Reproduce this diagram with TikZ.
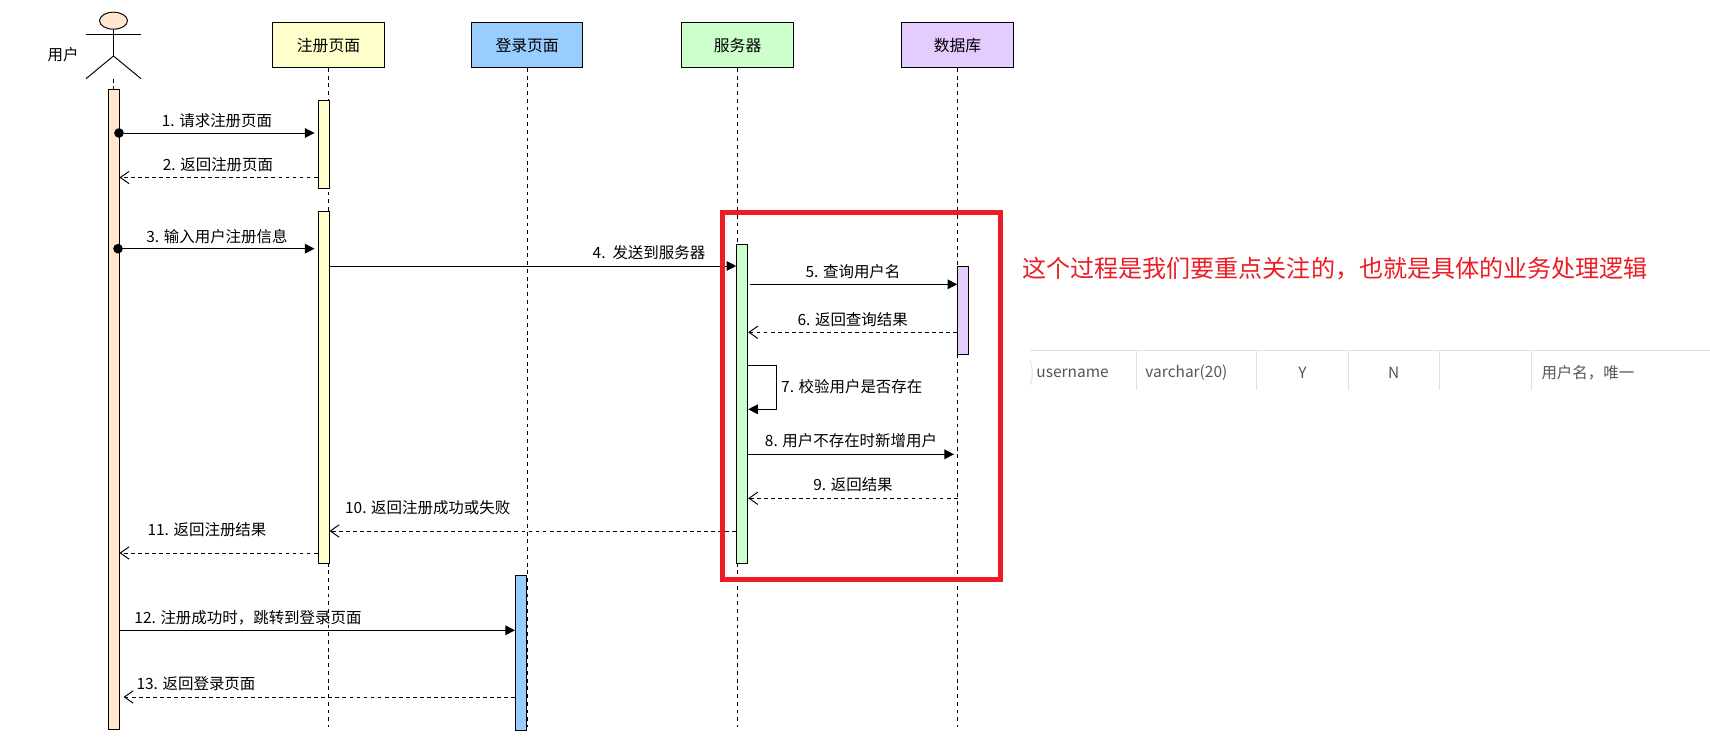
\documentclass[tikz,border=0pt]{standalone}
\usepackage{fontspec}
\setmainfont{Noto Sans CJK SC}
\usepackage{tikz}
\usetikzlibrary{arrows.meta, positioning, shapes.geometric}

\definecolor{usercol}{HTML}{FFE6CC}
\definecolor{regcol}{HTML}{FFFFCC}
\definecolor{logincol}{HTML}{99CCFF}
\definecolor{servercol}{HTML}{CCFFCC}
\definecolor{dbcol}{HTML}{E5CCFF}
\definecolor{markred}{HTML}{ED1C24}
\definecolor{rulecol}{HTML}{DFE2E5}
\definecolor{celltext}{HTML}{555555}

\begin{document}
\begin{tikzpicture}[
      x=0.02cm, y=-0.02cm,
      line width=0.55pt,
      head/.style={rectangle, draw, minimum width=2.23cm, minimum height=0.89cm, inner sep=0pt, font=\fontsize{9}{10}\selectfont},
      bar/.style={rectangle, draw, minimum width=0.22cm, inner sep=0pt},
      lifeline/.style={dash pattern=on 2.2pt off 2.2pt},
      msg/.style={-{Triangle[length=5.5pt, width=5.5pt]}},
      reply/.style={dash pattern=on 2.2pt off 1.8pt, -{Straight Barb[length=5pt, width=7pt]}},
      dot/.style={circle, fill=black, inner sep=0pt, minimum size=5.5pt},
      lbl/.style={inner sep=0pt, font=\fontsize{8.8}{10}\selectfont},
      cell/.style={inner sep=0pt, text=celltext, font=\fontsize{8.8}{10}\selectfont},
      tablerule/.style={draw=rulecol}
    ]
      \useasboundingbox (0,0) rectangle (1710,753);

      \node[ellipse, draw, fill=usercol, minimum width=0.56cm, minimum height=0.34cm, inner sep=0pt] (actor) at (113.5,20.7) {};
      \coordinate (handl) at (86,34);
      \coordinate (handr) at (141,34);
      \coordinate (hip) at (113.5,56);
      \coordinate (footl) at (86,78.7);
      \coordinate (footr) at (141,78.7);
      \node[lbl] (username) at (63,55) {用户};
      \draw (actor.south) -- (hip);
      \draw (handl) -- (handr);
      \draw (footl) -- (hip) -- (footr);

      \node[head, fill=regcol] (reghead) at (328.5,45.2) {注册页面};
      \node[head, fill=logincol, right=1.725cm of reghead] (loginhead) {登录页面};
      \node[head, fill=servercol, right=1.96cm of loginhead] (serverhead) {服务器};
      \node[head, fill=dbcol, right=2.15cm of serverhead] (dbhead) {数据库};

      \coordinate (lineend) at (0,727);
      \coordinate (actorline) at (113.5,89);
      \draw[lifeline] (hip |- footl) -- (actorline);
      \draw[lifeline] (reghead.south) -- (reghead.south |- lineend);
      \draw[lifeline] (loginhead.south) -- (loginhead.south |- lineend);
      \draw[lifeline] (serverhead.south) -- (serverhead.south |- lineend);
      \draw[lifeline] (dbhead.south) -- (dbhead.south |- lineend);

      \node[bar, fill=usercol, minimum height=12.82cm] (userbar) at (113.5,409.5) {};
      \node[bar, fill=regcol, minimum height=1.76cm] (regbara) at (323.5,144) {};
      \node[bar, fill=regcol, minimum height=7.06cm] (regbarb) at (323.5,387.5) {};
      \node[bar, fill=logincol, minimum height=3.1cm] (loginbar) at (521,652.5) {};
      \node[bar, fill=servercol, minimum height=6.4cm] (serverbar) at (742.2,404) {};
      \node[bar, fill=dbcol, minimum height=1.76cm] (dbbar) at (963.2,310) {};

      \node[dot] (dota) at (119,133) {};
      \node[dot] (dotb) at (118,248.7) {};
      \draw[msg, shorten >=1.7pt] (dota) -- (regbara.west |- dota);
      \node[lbl] (la) at (217,120.5) {1. 请求注册页面};

      \coordinate (mb) at (0,177.5);
      \draw[reply] (regbara.west |- mb) -- (userbar.east |- mb);
      \node[lbl] (lb) at (218,164.7) {2. 返回注册页面};

      \draw[msg, shorten >=1.7pt] (dotb) -- (regbarb.west |- dotb);
      \node[lbl] (lc) at (217,236.5) {3. 输入用户注册信息};

      \coordinate (md) at (0,266);
      \draw[msg] (regbarb.east |- md) -- (serverbar.west |- md);
      \node[lbl] (ld) at (649,253) {4.\ \ 发送到服务器};

      \coordinate (me) at (0,284.3);
      \draw[msg, shorten <=1.3pt] (serverbar.east |- me) -- (dbbar.west |- me);
      \node[lbl] (le) at (853,271.7) {5. 查询用户名};

      \coordinate (mf) at (0,332.3);
      \draw[reply] (dbbar.west |- mf) -- (serverbar.east |- mf);
      \node[lbl] (lf) at (852.7,319.3) {6. 返回查询结果};

      \coordinate (mga) at (776,365);
      \coordinate (mgb) at (776,409.3);
      \draw[msg] (serverbar.east |- mga) -- (mga) -- (mgb) -- (serverbar.east |- mgb);
      \node[lbl, anchor=west] (lg) at (780.7,386.7) {7. 校验用户是否存在};

      \coordinate (mh) at (0,454.3);
      \draw[msg, shorten >=2pt] (serverbar.east |- mh) -- (dbhead.south |- mh);
      \node[lbl] (lh) at (851,440.7) {8. 用户不存在时新增用户};

      \coordinate (mi) at (0,498.3);
      \draw[reply] (dbhead.south |- mi) -- (serverbar.east |- mi);
      \node[lbl] (li) at (853,485) {9. 返回结果};

      \coordinate (mj) at (0,531);
      \draw[reply] (serverbar.west |- mj) -- (regbarb.east |- mj);
      \node[lbl] (lj) at (427.7,507.3) {10. 返回注册成功或失败};

      \coordinate (mk) at (0,553);
      \draw[reply] (regbarb.west |- mk) -- (userbar.east |- mk);
      \node[lbl] (lk) at (207,529.3) {11. 返回注册结果};

      \coordinate (ml) at (0,630.3);
      \draw[msg] (userbar.east |- ml) -- (loginbar.west |- ml);
      \node[lbl] (ll) at (248,617.3) {12. 注册成功时，跳转到登录页面};

      \coordinate (mm) at (0,697);
      \draw[reply, shorten >=2.3pt] (loginbar.west |- mm) -- (userbar.east |- mm);
      \node[lbl] (lm) at (196,684) {13. 返回登录页面};

      \draw[markred, line width=2.83pt] (722.5,212.5) rectangle (1000.2,579.2);
      \node[inner sep=0pt, anchor=west, text=markred, font=\fontsize{13.7}{16}\selectfont] (note) at (1021.7,269) {这个过程是我们要重点关注的，也就是具体的业务处理逻辑};

      \draw[tablerule] (1030,350.3) -- (1710,350.3);
      \foreach \x in {1136.3, 1256.3, 1348.7, 1439.8, 1531.7}
        \draw[tablerule] (\x,350.3) -- (\x,390);
      \draw[tablerule] (1030,360) .. controls (1033,368) and (1033,378) .. (1030,385);
      \node[cell, anchor=west] (cname) at (1036,373) {username};
      \node[cell, anchor=west] (ctype) at (1145,373) {varchar(20)};
      \node[cell] (cy) at (1302.5,373) {Y};
      \node[cell] (cn) at (1393.6,373) {N};
      \node[cell, anchor=west] (cnote) at (1541,373) {用户名，唯一};
    \end{tikzpicture}
\end{document}
